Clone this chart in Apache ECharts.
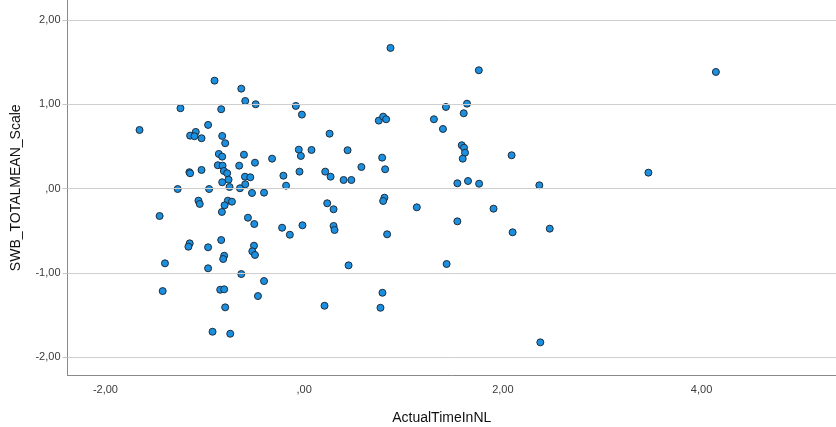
<!DOCTYPE html>
<html>
<head>
<meta charset="utf-8">
<script src="https://cdn.jsdelivr.net/npm/echarts@6/dist/echarts.min.js"></script>
<style>html,body{margin:0;padding:0;background:#fff;}#c{width:836px;height:427px;}</style>
</head>
<body>
<div id="c"></div>
<script>
// ActualTimeInNL (x) values
var timeInNL = [
 -0.902,-0.633,-0.593,-0.488,-1.245,-0.835,-0.084,-0.023,-1.657,-0.967,
 -1.091,-1.148,-1.104,-1.033,-0.825,-0.795,-0.054,0.074,-0.033,-0.859,
 -0.825,-0.606,-0.323,-0.495,-0.654,-0.869,-0.821,-1.033,-1.155,-1.148,
 -0.808,-0.775,-0.047,-0.209,-0.596,-0.542,-0.761,-0.825,-0.593,-0.182,
 -0.751,-0.646,-1.273,-0.957,-0.525,-0.404,-1.064,-1.051,-0.768,-0.727,
 -0.801,-0.828,-1.455,-0.566,-0.502,-0.222,-0.017,-0.144,-1.152,-1.165,
 -0.835,-0.967,-0.505,-0.522,-0.495,-0.805,-0.815,-1.401,-0.967,-0.633,
 -0.404,-1.424,-0.845,-0.805,-0.465,-0.795,-0.922,-0.744,0.869,1.427,
 0.751,0.795,0.825,1.306,1.397,0.256,0.437,0.785,0.576,0.815,
 0.212,0.266,0.397,0.475,1.542,0.808,0.795,0.232,0.296,1.134,
 1.542,0.296,0.306,0.835,0.447,1.434,0.788,0.205,0.768,1.758,
 1.639,1.606,1.586,1.609,1.619,1.596,2.088,1.649,1.761,2.367,
 1.906,2.098,2.472,2.377,4.144,3.465
];
// SWB_TOTALMEAN_Scale (y) values
var swbScale = [
 1.281,1.186,1.040,1.001,0.954,0.942,0.981,0.878,0.696,0.756,
 0.673,0.629,0.622,0.598,0.625,0.539,0.463,0.459,0.388,0.412,
 0.380,0.403,0.356,0.308,0.273,0.278,0.273,0.222,0.195,0.183,
 0.210,0.183,0.202,0.154,0.142,0.135,0.107,0.076,0.052,0.036,
 0.020,0.005,-0.004,-0.004,-0.051,-0.047,-0.142,-0.181,-0.142,-0.154,
 -0.197,-0.276,-0.324,-0.344,-0.419,-0.463,-0.434,-0.546,-0.648,-0.688,
 -0.609,-0.695,-0.676,-0.743,-0.786,-0.795,-0.834,-0.885,-0.944,-1.012,
 -1.095,-1.214,-1.198,-1.193,-1.273,-1.407,-1.696,-1.720,1.669,0.969,
 0.807,0.854,0.823,0.823,0.708,0.652,0.456,0.368,0.257,0.230,
 0.202,0.142,0.103,0.103,0.064,-0.107,-0.146,-0.173,-0.244,-0.221,
 -0.387,-0.442,-0.490,-0.541,-0.909,-0.893,-1.234,-1.388,-1.412,1.404,
 1.008,0.894,0.515,0.486,0.427,0.356,0.396,0.091,0.059,0.040,
 -0.237,-0.517,-0.474,-1.822,1.384,0.190
];
var xTicks = [-2, 0, 2, 4];
var yTicks = [-2, -1, 0, 1, 2];
var xTitle = 'ActualTimeInNL';
var yTitle = 'SWB_TOTALMEAN_Scale';

function fmt(v) {
  if (Math.abs(v) < 1e-9) return ',00';
  return v.toFixed(2).replace('.', ',');
}

var points = timeInNL.map(function (x, i) { return [x, swbScale[i]]; });

var chart = echarts.init(document.getElementById('c'), null, {renderer: 'canvas'});
chart.setOption({
  animation: false,
  backgroundColor: '#ffffff',
  grid: {left: 67.5, right: 0, top: 0, bottom: 51.5, containLabel: false, outerBoundsMode: 'none'},
  xAxis: {
    type: 'value',
    min: -2.382, max: 5.353,
    name: xTitle, nameLocation: 'middle', nameGap: 36,
    nameTextStyle: {fontFamily: 'Liberation Sans, Arial, sans-serif', fontSize: 14, color: '#111', padding: [0, 20, 0, 0]},
    axisLine: {show: true, onZero: false, lineStyle: {color: '#8a8a8a', width: 1}},
    axisTick: {show: false},
    splitLine: {show: false},
    axisLabel: {
      customValues: xTicks, formatter: fmt, margin: 9,
      fontFamily: 'Liberation Sans, Arial, sans-serif', fontSize: 11, color: '#3a3a3a'
    }
  },
  yAxis: {
    type: 'value',
    min: -2.215, max: 2.237,
    name: yTitle, nameLocation: 'middle', nameGap: 44.5, nameRotate: 90,
    nameTextStyle: {fontFamily: 'Liberation Sans, Arial, sans-serif', fontSize: 14, color: '#111'},
    axisLine: {show: true, onZero: false, lineStyle: {color: '#8a8a8a', width: 1}},
    axisTick: {show: true, customValues: yTicks, length: 5, lineStyle: {color: '#c4c4c4'}},
    splitLine: {show: false},
    axisLabel: {
      customValues: yTicks, formatter: fmt, margin: 7,
      fontFamily: 'Liberation Sans, Arial, sans-serif', fontSize: 11, color: '#3a3a3a'
    }
  },
  series: [
    {
      type: 'scatter', data: [], z: 1, silent: true,
      markLine: {
        silent: true, symbol: ['none', 'none'], animation: false,
        label: {show: false},
        lineStyle: {color: '#cfcfcf', width: 1, type: 'solid'},
        emphasis: {disabled: true},
        data: yTicks.map(function (v) { return {yAxis: v}; })
      }
    },
    {
      type: 'scatter', z: 3,
      data: points,
      symbol: 'circle', symbolSize: 7,
      itemStyle: {color: '#1b8fe0', borderColor: '#1f2d3a', borderWidth: 1, opacity: 1}
    }
  ]
});
</script>
</body>
</html>
